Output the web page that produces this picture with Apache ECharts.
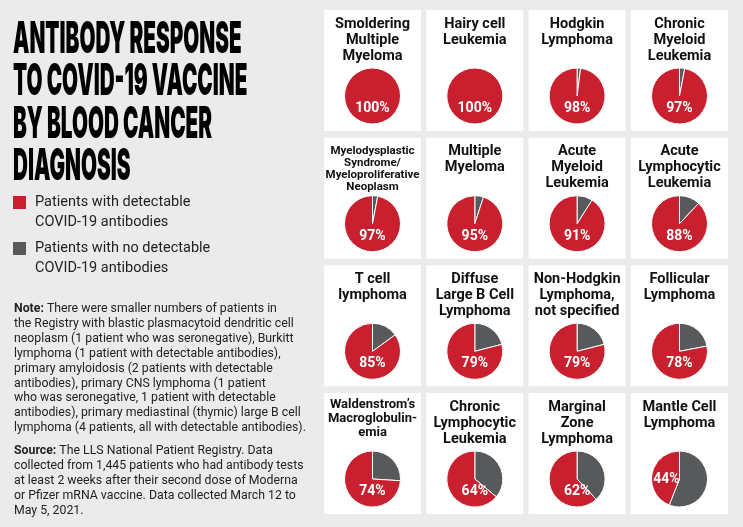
<!DOCTYPE html>
<html><head><meta charset="utf-8">
<script src="https://cdn.jsdelivr.net/npm/echarts@6/dist/echarts.min.js"></script>
<style>html,body{margin:0;padding:0;background:#ebebeb}#c{width:743px;height:527px}</style>
</head><body><div id="c"></div>
<script>
// ---- data ----
const categories = [
  "Smoldering\nMultiple\nMyeloma", "Hairy cell\nLeukemia", "Hodgkin\nLymphoma", "Chronic\nMyeloid\nLeukemia",
  "Myelodysplastic\nSyndrome/\nMyeloproliferative\nNeoplasm", "Multiple\nMyeloma", "Acute\nMyeloid\nLeukemia", "Acute\nLymphocytic\nLeukemia",
  "T cell\nlymphoma", "Diffuse\nLarge B Cell\nLymphoma", "Non-Hodgkin\nLymphoma,\nnot specified", "Follicular\nLymphoma",
  "Waldenstrom\u2019s\nMacroglobulin-\nemia", "Chronic\nLymphocytic\nLeukemia", "Marginal\nZone\nLymphoma", "Mantle Cell\nLymphoma"
];
const detectable    = [100, 100, 98, 97, 97, 95, 91, 88, 85, 79, 79, 78, 74, 64, 62, 44];
const notDetectable = [0, 0, 2, 3, 3, 5, 9, 12, 15, 21, 21, 22, 26, 36, 38, 56];
const seriesNames = ["Patients with no detectable COVID-19 antibodies", "Patients with detectable COVID-19 antibodies"];
const titleLines = ["ANTIBODY RESPONSE", "TO COVID-19 VACCINE", "BY BLOOD CANCER", "DIAGNOSIS"];
const legendLabels = ["Patients with detectable\nCOVID-19 antibodies", "Patients with no detectable\nCOVID-19 antibodies"];
const noteLines = [
  "{b|Note:} There were smaller numbers of patients in",
  "the Registry with blastic plasmacytoid dendritic cell",
  "neoplasm (1 patient who was seronegative), Burkitt",
  "lymphoma (1 patient with detectable antibodies),",
  "primary amyloidosis (2 patients with detectable",
  "antibodies), primary CNS lymphoma (1 patient",
  "who was seronegative, 1 patient with detectable",
  "antibodies), primary mediastinal (thymic) large B cell",
  "lymphoma (4 patients, all with detectable antibodies)."
];
const sourceLines = [
  "{b|Source:} The LLS National Patient Registry. Data",
  "collected from 1,445 patients who had antibody tests",
  "at least 2 weeks after their second dose of Moderna",
  "or Pfizer mRNA vaccine. Data collected March 12 to",
  "May 5, 2021."
];

// ---- style / layout ----
const RED = '#c8202e', GRAY = '#58595b';
const FF = 'Roboto, "Noto Sans", sans-serif';
const colX = [324, 426.3, 528.6, 631], rowY = [10, 137.7, 265.3, 393];
const cardW = 97, cardH = 121;
const specialTitle = {4: {size: 11.5, lh: 12, top: 7}, 12: {size: 13, lh: 14, top: 5}};

const graphics = [];
const series = [];
categories.forEach((cat, i) => {
  const cx = colX[i % 4], cy = rowY[Math.floor(i / 4)];
  graphics.push({type: 'rect', shape: {x: cx, y: cy, width: cardW, height: cardH}, style: {fill: '#fff'}, silent: true, z: 0});
  const st = specialTitle[i] || {size: 14.5, lh: 16, top: 6};
  graphics.push({type: 'text', x: cx + cardW / 2, y: cy + st.top, z: 5, silent: true,
    style: {text: cat, font: `bold ${st.size}px ${FF}`, fill: '#111', align: 'center', verticalAlign: 'top', lineHeight: st.lh}});
  const data = [];
  if (notDetectable[i] > 0) data.push({name: seriesNames[0], value: notDetectable[i], itemStyle: {color: GRAY}, label: {show: false}});
  const redMinor = detectable[i] < 50;
  data.push({name: seriesNames[1], value: detectable[i], itemStyle: {color: RED},
    label: {show: true, position: 'center',
      formatter: p => redMinor ? '{v|' + p.value + '%}{s| }' : '{g| }\n{v|' + p.value + '%}',
      rich: {g: {height: 25, fontSize: 1}, s: {width: 26, fontSize: 1},
             v: {fontSize: 14, fontWeight: 'bold', color: '#fff', fontFamily: FF, height: 18}}}});
  series.push({type: 'pie', silent: true, radius: 28, center: [cx + cardW / 2, cy + 86],
    startAngle: 90, clockwise: true, animation: false,
    itemStyle: {borderColor: '#fff', borderWidth: 1},
    labelLine: {show: false}, emphasis: {disabled: true}, data});
});

// title
titleLines.forEach((t, k) => {
  graphics.push({type: 'text', x: 13, y: 18 + k * 42.2, scaleX: 0.47, silent: true,
    style: {text: t, font: '900 44px Inter, "DejaVu Sans", sans-serif', fill: '#000', align: 'left', verticalAlign: 'top'}});
});
// legend
[RED, GRAY].forEach((c, k) => {
  const y0 = 196 + k * 46;
  graphics.push({type: 'rect', shape: {x: 13, y: y0, width: 13, height: 13}, style: {fill: c}, silent: true});
  graphics.push({type: 'text', x: 35, y: y0 - 4, silent: true,
    style: {text: legendLabels[k], font: `14.5px ${FF}`, fill: '#222', align: 'left', verticalAlign: 'top', lineHeight: 20}});
});
// notes
const bold = {b: {font: `bold 12.3px ${FF}`, fill: '#222'}};
graphics.push({type: 'text', x: 14, y: 301.5, silent: true,
  style: {text: noteLines.join('\n'), font: `12.3px ${FF}`, fill: '#222', align: 'left', verticalAlign: 'top', lineHeight: 14.9, rich: bold}});
graphics.push({type: 'text', x: 14, y: 443.5, silent: true,
  style: {text: sourceLines.join('\n'), font: `12.3px ${FF}`, fill: '#222', align: 'left', verticalAlign: 'top', lineHeight: 14.9, rich: bold}});

const chart = echarts.init(document.getElementById('c'));
chart.setOption({backgroundColor: '#ebebeb', animation: false, graphic: graphics, series});
</script></body></html>
